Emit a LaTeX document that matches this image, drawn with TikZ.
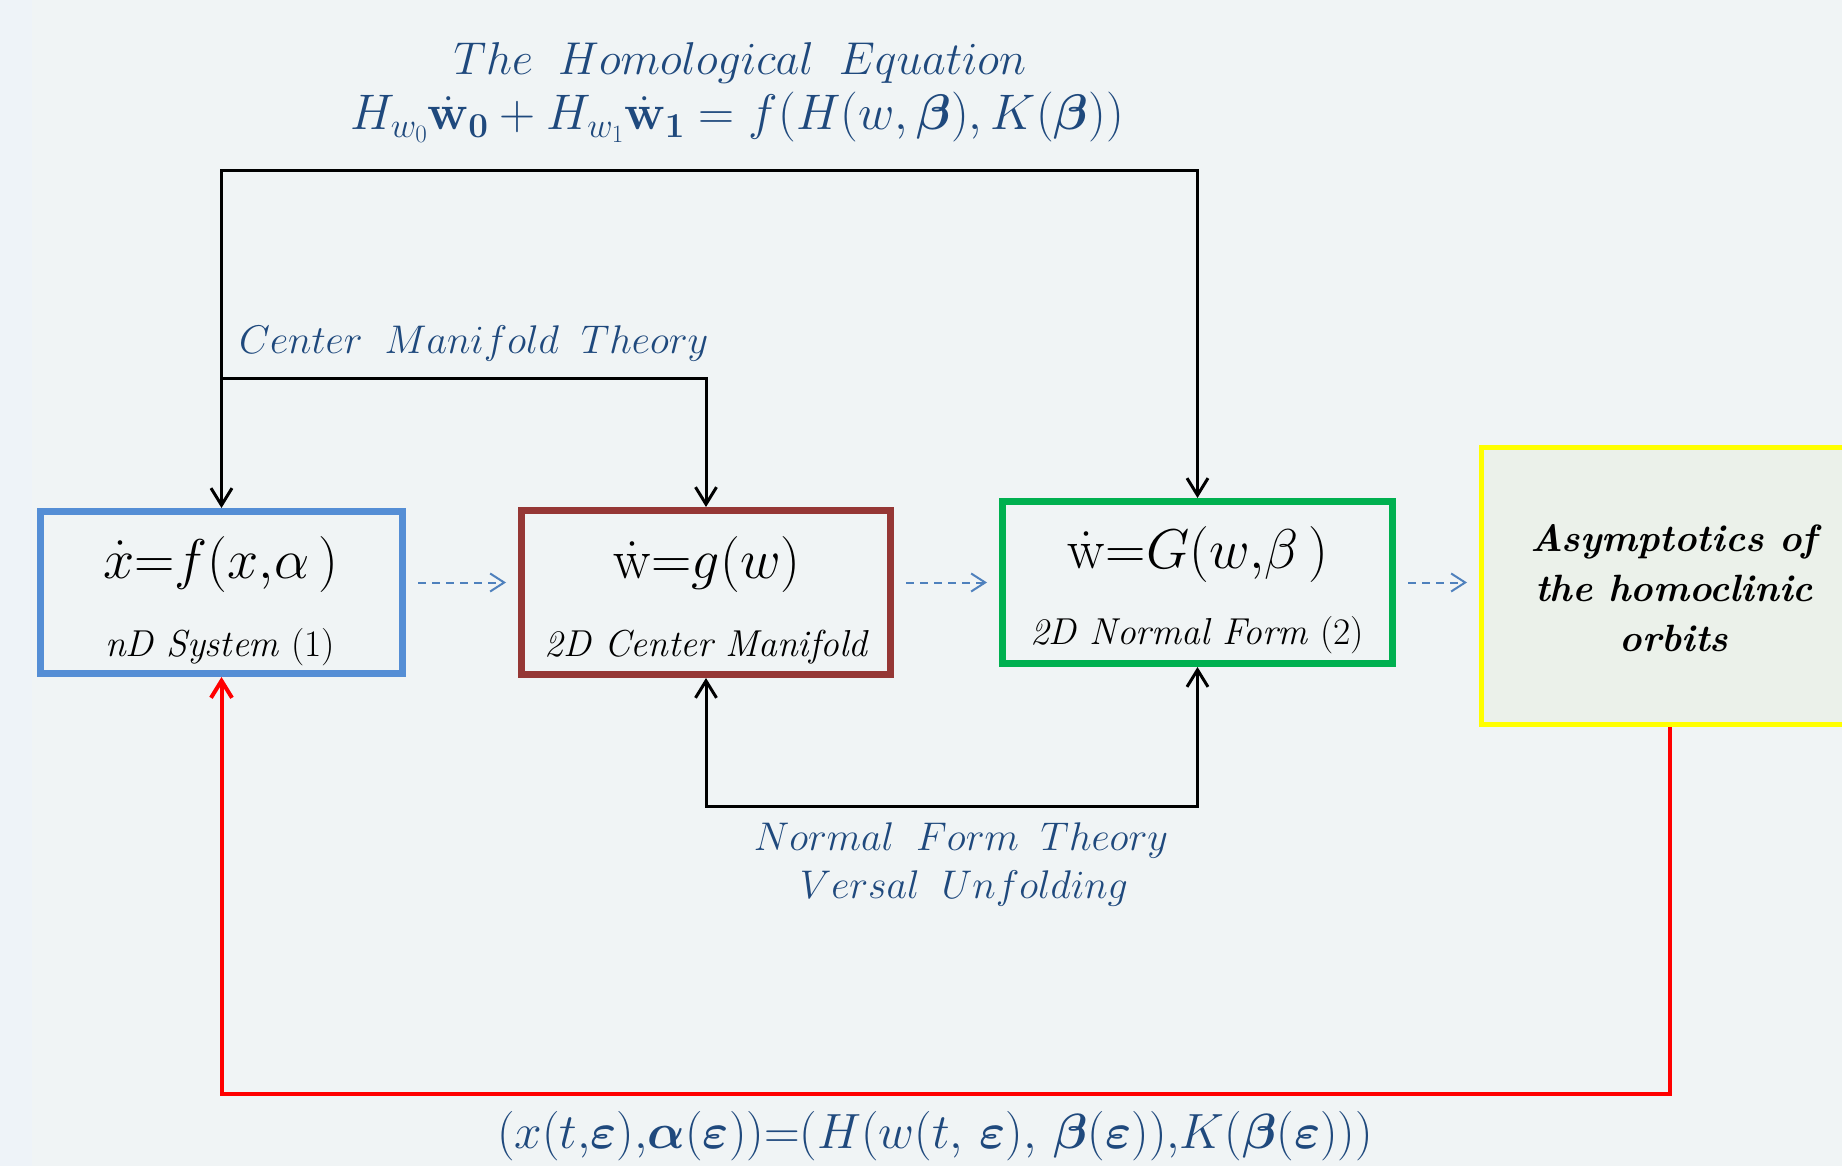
\RequirePackage{fix-cm}
\documentclass[tikz,border=0pt]{standalone}
\usepackage{bm}
\usetikzlibrary{arrows.meta}
\definecolor{bg}{HTML}{F0F4F5}
\definecolor{bgl}{HTML}{EEF3F8}
\definecolor{txtblue}{HTML}{1F497D}
\definecolor{boxblue}{HTML}{558ED5}
\definecolor{boxbrown}{HTML}{953735}
\definecolor{boxgreen}{HTML}{00B050}
\definecolor{boxyellow}{HTML}{FFFF00}
\definecolor{yfill}{HTML}{EBF1EA}
\definecolor{dashblue}{HTML}{4F81BD}
\newcommand{\fsz}[2]{\fontsize{#1}{#2}\selectfont}
\newcommand{\wgap}{\hspace{0.55em}}
\begin{document}
\begin{tikzpicture}[x=1pt,y=-1pt,
  box/.style={draw, line width=7pt, inner sep=0pt},
  conn/.style={line width=3pt, draw=black},
  tipb/.style={-{Straight Barb[length=17pt,width=21pt]}},
  tipbb/.style={{Straight Barb[length=17pt,width=21pt]}-{Straight Barb[length=17pt,width=21pt]}},
  dasharr/.style={draw=dashblue, line width=2pt, dash pattern=on 8pt off 6pt,
     -{Straight Barb[length=14pt,width=18pt]}, shorten <=12pt, shorten >=12pt},
  eqn/.style={inner sep=0pt, font=\fsz{56}{60}},
  boxcap/.style={inner sep=0pt, font=\fsz{37.5}{42}},
  lbl/.style={inner sep=0pt, text=txtblue, font=\fsz{40}{48}},
]
\useasboundingbox (0,0) rectangle (1842,1166);
\clip (0,0) rectangle (1842,1166);
\fill[bg] (0,0) rectangle (1842,1166);
\fill[bgl] (0,0) rectangle (32,1166);

% boxes
\node[box, draw=boxblue, minimum width=362pt, minimum height=162pt] (blue) at (221.5,592.5) {};
\node[box, draw=boxbrown, minimum width=369pt, minimum height=164pt] (brown) at (706,592.5) {};
\node[box, draw=boxgreen, minimum width=390pt, minimum height=162pt] (green) at (1197.5,582.5) {};
\node[box, draw=boxyellow, fill=yfill, line width=5pt, minimum width=385pt, minimum height=277pt] (yellow) at (1674,586) {};

% box contents
\node[eqn, anchor=base] (eqx) at (221,578) {$\dot{x}{=}f(x{,}\alpha\,)$};
\node[boxcap, anchor=base] (capx) at (220,656) {\textit{nD System} (1)};
\node[eqn, anchor=base] (eqw) at (707,578) {$\dot{\mathrm{w}}{=}g(w)$};
\node[boxcap, anchor=base] (capw) at (707,656) {\textit{2D Center Manifold}};
\node[eqn, anchor=base] (eqg) at (1198,568) {$\dot{\mathrm{w}}{=}G(w{,}\beta\,)$};
\node[boxcap, anchor=base] (capg) at (1197,644) {\textit{2D Normal Form} (2)};
\node[inner sep=0pt, align=center, font=\fsz{38}{50}\bfseries\itshape] (ytxt) at (1674,588)
  {Asymptotics of\\the homoclinic\\orbits};

% coordinates for levels
\coordinate (ytop) at (0,171);
\coordinate (ycm) at (0,378);
\coordinate (ynf) at (0,806);
\coordinate (yred) at (0,1094);

% connectors
\draw[conn, tipbb] (blue.north) |- (ytop -| green.north) -- (green.north);
\draw[conn, tipb] (blue.north |- ycm) -| (brown.north);
\draw[conn, tipbb] (brown.south) -- (brown.south |- ynf) -| (green.south);
\draw[line width=4pt, draw=red, tipb] ([xshift=-4.5pt]yellow.south) -- ([xshift=-4.5pt]yellow.south |- yred) -| (blue.south);

\draw[dasharr] (blue.east |- green.center) -- (brown.west |- green.center);
\draw[dasharr] (brown.east |- green.center) -- (green.west);
\draw[dasharr] (green.east) -- (yellow.west |- green.east);

% labels
\node[lbl, font=\fsz{46}{52}, anchor=base] (title) at (740,75) {$The\wgap Homological\wgap Equation$};
\node[lbl, font=\fsz{50}{54}, anchor=base] (homeq) at (737,130)
  {$H_{w_0}\dot{\mathbf{w}}_{\mathbf{0}}+H_{w_1}\dot{\mathbf{w}}_{\mathbf{1}}=f(H(w,\bm{\beta}),K(\bm{\beta}))$};
\node[lbl, anchor=base west] (cmt) at (239,353) {$Center\wgap Manifold\wgap Theory$};
\node[lbl, anchor=base] (nft) at (961,850) {$Normal\wgap Form\wgap Theory$};
\node[lbl, anchor=base] (vu) at (964,898) {$Versal\wgap Unfolding$};
\node[lbl, font=\fsz{49.5}{54}, anchor=base] (bot) at (935,1148)
  {$(x(t{,}\bm{\varepsilon}){,}\bm{\alpha}(\bm{\varepsilon})){=}(H(w(t,\,\bm{\varepsilon}),\,\bm{\beta}(\bm{\varepsilon})){,}K(\bm{\beta}(\bm{\varepsilon})))$};
\end{tikzpicture}
\end{document}
